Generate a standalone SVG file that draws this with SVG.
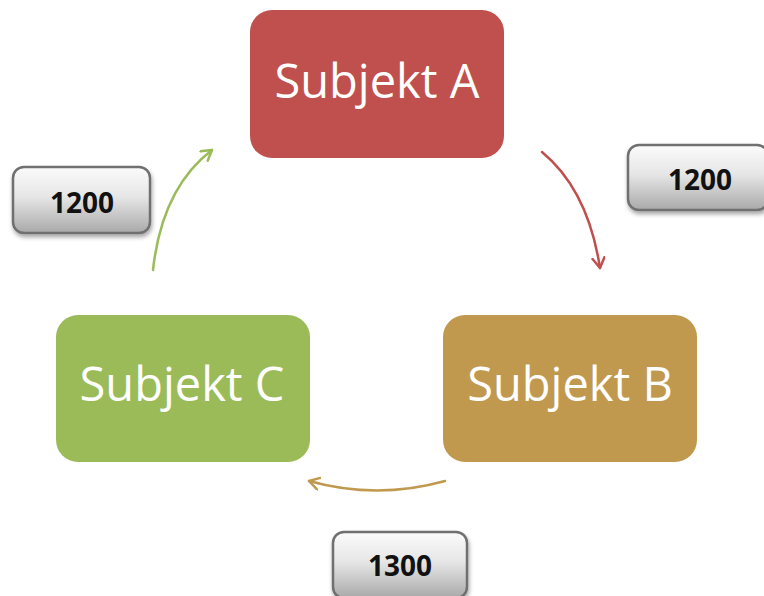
<svg xmlns="http://www.w3.org/2000/svg" width="764" height="596" viewBox="0 0 764 596">
<style>
.node-text{font-family:"Open Sans","Noto Sans",sans-serif;font-size:47px;fill:#ffffff;text-anchor:middle}
.lbl-box{fill:url(#gray);stroke:#6f6f6f;stroke-width:2.5;filter:url(#shadow)}
.lbl-text{font-family:"Open Sans","Noto Sans",sans-serif;font-size:28px;font-weight:bold;fill:#111;text-anchor:middle}
.conn{fill:none;stroke-width:2.5;stroke-linecap:round}
</style>
<defs>
<linearGradient id="gray" x1="0" y1="0" x2="0" y2="1">
<stop offset="0" stop-color="#fbfbfb"/>
<stop offset="0.45" stop-color="#e6e6e6"/>
<stop offset="1" stop-color="#a9a9a9"/>
</linearGradient>
<filter id="shadow" x="-20%" y="-20%" width="140%" height="150%">
<feDropShadow dx="1" dy="3" stdDeviation="2" flood-color="#000" flood-opacity="0.35"/>
</filter>
<marker id="arrRed" markerWidth="16" markerHeight="16" refX="11" refY="7" orient="auto" markerUnits="userSpaceOnUse">
<path d="M1,1 L11,7 L1,13" fill="none" stroke="#C0504D" stroke-width="2.5" stroke-linecap="round" stroke-linejoin="round"/>
</marker>
<marker id="arrGreen" markerWidth="16" markerHeight="16" refX="11" refY="7" orient="auto" markerUnits="userSpaceOnUse">
<path d="M1,1 L11,7 L1,13" fill="none" stroke="#9BBB59" stroke-width="2.5" stroke-linecap="round" stroke-linejoin="round"/>
</marker>
<marker id="arrTan" markerWidth="16" markerHeight="16" refX="11" refY="7" orient="auto" markerUnits="userSpaceOnUse">
<path d="M1,1 L11,7 L1,13" fill="none" stroke="#C0994F" stroke-width="2.5" stroke-linecap="round" stroke-linejoin="round"/>
</marker>
</defs>
<rect width="764" height="596" fill="#ffffff"/>
<g id="connectors">
<path class="conn" d="M542,152 Q588,190 600,268" stroke="#C0504D" marker-end="url(#arrRed)"/>
<path class="conn" d="M445,481 Q377,500 309,481" stroke="#C0994F" marker-end="url(#arrTan)"/>
<path class="conn" d="M153,270 Q162,188 212,150" stroke="#9BBB59" marker-end="url(#arrGreen)"/>
</g>
<g id="nodeA">
<rect x="250" y="10" width="254" height="148" rx="22" fill="#C0504D"/>
<text class="node-text" x="377" y="98">Subjekt A</text>
</g>
<g id="nodeB">
<rect x="443" y="315" width="254" height="147" rx="22" fill="#C0994F"/>
<text class="node-text" x="570" y="401">Subjekt B</text>
</g>
<g id="nodeC">
<rect x="56" y="315" width="254" height="147" rx="22" fill="#9BBB59"/>
<text class="node-text" x="182" y="401">Subjekt C</text>
</g>
<g id="labelAB">
<rect class="lbl-box" x="628" y="145" width="140" height="65" rx="11"/>
<text class="lbl-text" x="700" y="190">1200</text>
</g>
<g id="labelCA">
<rect class="lbl-box" x="13" y="167" width="137" height="66" rx="11"/>
<text class="lbl-text" x="82" y="213">1200</text>
</g>
<g id="labelBC">
<rect class="lbl-box" x="333" y="532" width="134" height="66" rx="11"/>
<text class="lbl-text" x="400" y="576">1300</text>
</g>
</svg>
